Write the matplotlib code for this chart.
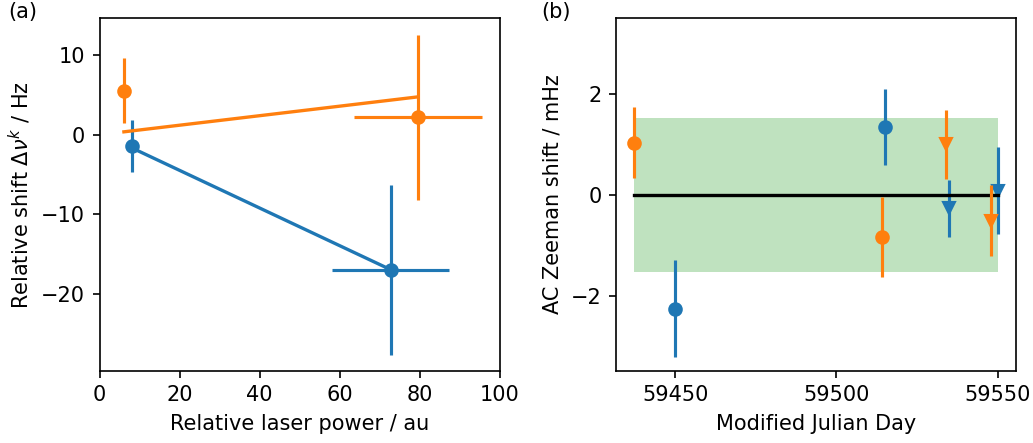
import matplotlib
matplotlib.use("Agg")
import matplotlib.pyplot as plt
import numpy as np

# (a) relative shift vs laser power
power_blue = [8.2, 72.8]
power_blue_err = [0.0, 14.6]
shift_blue = [-1.4, -17.0]
shift_blue_err = [3.25, 10.7]
fit_blue = [-1.7, -17.0]

power_orange = [6.1, 79.6]
power_orange_err = [0.0, 16.0]
shift_orange = [5.5, 2.2]
shift_orange_err = [4.1, 10.4]
fit_orange = [0.35, 4.75]

# (b) AC Zeeman shift vs MJD
mjd_blue_circ = [59450.0, 59515.0]
zee_blue_circ = [-2.25, 1.34]
zee_blue_circ_err = [0.96, 0.75]

mjd_orange_circ = [59437.3, 59514.0]
zee_orange_circ = [1.03, -0.84]
zee_orange_circ_err = [0.70, 0.79]

mjd_blue_tri = [59535.0, 59550.0]
zee_blue_tri = [-0.27, 0.085]
zee_blue_tri_err = [0.56, 0.86]

mjd_orange_tri = [59533.9, 59547.8]
zee_orange_tri = [1.0, -0.51]
zee_orange_tri_err = [0.68, 0.70]

band_halfwidth = 1.52
mean_shift = 0.0

fig = plt.figure(figsize=(1033 / 150, 443 / 150), dpi=150)
ax1 = fig.add_axes([99.5 / 1033, 72.3 / 443, 400 / 1033, 352.2 / 443])
ax2 = fig.add_axes([616 / 1033, 72.3 / 443, 400 / 1033, 352.2 / 443])

# panel (a)
ax1.errorbar(power_blue, shift_blue, xerr=power_blue_err, yerr=shift_blue_err,
             fmt="o", color="C0")
ax1.plot(power_blue, fit_blue, color="C0", lw=1.6)
ax1.errorbar(power_orange, shift_orange, xerr=power_orange_err, yerr=shift_orange_err,
             fmt="o", color="C1")
ax1.plot(power_orange, fit_orange, color="C1", lw=1.6)
ax1.set_xlim(0, 100)
ax1.set_xticks([0, 20, 40, 60, 80, 100])
ax1.set_yticks([-20, -10, 0, 10])
ax1.set_xlabel("Relative laser power / au")
ax1.set_ylabel(r"Relative shift $\Delta\nu^k$ / Hz")

# panel (b)
all_mjd = mjd_blue_circ + mjd_orange_circ + mjd_blue_tri + mjd_orange_tri
x0, x1 = min(all_mjd), max(all_mjd)
ax2.fill_between([x0, x1], -band_halfwidth, band_halfwidth, color="C2", alpha=0.3,
                 linewidth=0)
ax2.errorbar(mjd_blue_circ, zee_blue_circ, yerr=zee_blue_circ_err, fmt="o", color="C0")
ax2.errorbar(mjd_blue_tri, zee_blue_tri, yerr=zee_blue_tri_err, fmt="v", color="C0",
             zorder=2.5)
ax2.plot([x0, x1], [mean_shift, mean_shift], color="black", lw=1.6, zorder=2.6)
ax2.errorbar(mjd_orange_circ, zee_orange_circ, yerr=zee_orange_circ_err, fmt="o",
             color="C1", zorder=2.7)
ax2.errorbar(mjd_orange_tri, zee_orange_tri, yerr=zee_orange_tri_err, fmt="v",
             color="C1", zorder=2.7)
ax2.set_ylim(-3.48, 3.49)
ax2.set_xticks([59450, 59500, 59550])
ax2.set_yticks([-2, 0, 2])
ax2.set_xlabel("Modified Julian Day")
ax2.set_ylabel("AC Zeeman shift / mHz")

fig.text(8 / 1033, 1 - 2 / 443, "(a)", ha="left", va="top", fontsize=10)
fig.text(541 / 1033, 1 - 2 / 443, "(b)", ha="left", va="top", fontsize=10)

fig.savefig("out.png", dpi=150)
